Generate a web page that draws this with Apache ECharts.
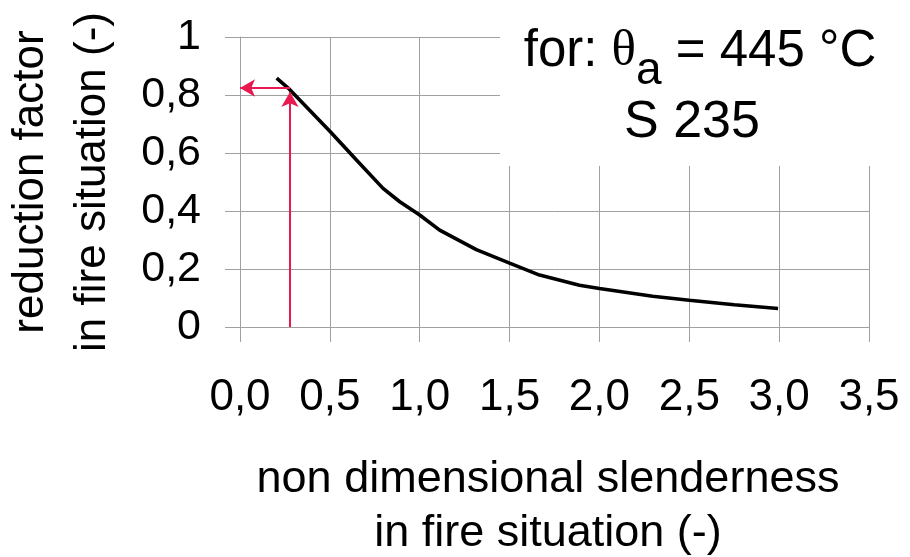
<!DOCTYPE html>
<html>
<head>
<meta charset="utf-8">
<style>
  html, body { margin: 0; padding: 0; background: #ffffff; }
  #chart { width: 910px; height: 557px; }
</style>
<script src="https://cdn.jsdelivr.net/npm/echarts@6/dist/echarts.min.js"></script>
</head>
<body>
<div id="chart"></div>
<script>
// ---- data ----
const slenderness = [0.204, 0.268, 0.5, 0.648, 0.796, 0.889, 1.0, 1.111, 1.315, 1.5, 1.667, 1.889, 2.0, 2.296, 2.5, 2.75, 2.994];
const reductionFactor = [0.858, 0.824, 0.675, 0.576, 0.478, 0.432, 0.386, 0.334, 0.267, 0.22, 0.179, 0.144, 0.133, 0.106, 0.092, 0.077, 0.064];
const xTickLabels = ['0,0', '0,5', '1,0', '1,5', '2,0', '2,5', '3,0', '3,5'];
const yTickLabels = ['0', '0,2', '0,4', '0,6', '0,8', '1'];
const readOffX = 0.278;      // slenderness at the red reading line
const readOffY = 0.824;
const readOffArrowTopY = 0.81;
const readOffArrowLeftX = 0.0;

const FONT = "'Liberation Sans', Arial, Helvetica, sans-serif";
const GRID = '#a0a0a0';
const RED = '#e8194f';

const chart = echarts.init(document.getElementById('chart'), null, { renderer: 'canvas' });

const curve = slenderness.map((x, i) => [x, reductionFactor[i]]);

chart.setOption({
  animation: false,
  backgroundColor: '#ffffff',
  grid: { left: 240, right: 41, top: 37, bottom: 230, containLabel: false, outerBoundsMode: 'none' },
  xAxis: {
    type: 'value', min: 0, max: 3.5, interval: 0.5,
    axisLine: { show: true, lineStyle: { color: GRID, width: 1 } },
    axisTick: { show: true, length: 15, lineStyle: { color: GRID, width: 1 } },
    splitLine: { show: true, lineStyle: { color: GRID, width: 1 } },
    axisLabel: {
      margin: 49, fontSize: 44, color: '#000', fontFamily: FONT,
      formatter: v => xTickLabels[Math.round(v / 0.5)]
    },
    name: 'non dimensional slenderness\nin fire situation (-)',
    nameLocation: 'middle', nameGap: 126,
    nameTextStyle: { fontSize: 45, lineHeight: 54, color: '#000', fontFamily: FONT, padding: [0, 13, 0, 0] }
  },
  yAxis: {
    type: 'value', min: 0, max: 1, interval: 0.2,
    axisLine: { show: true, lineStyle: { color: GRID, width: 1 } },
    axisTick: { show: true, length: 15, lineStyle: { color: GRID, width: 1 } },
    splitLine: { show: true, lineStyle: { color: GRID, width: 1 } },
    axisLabel: {
      margin: 39, fontSize: 43, color: '#000', fontFamily: FONT, padding: [6, 0, 0, 0],
      formatter: v => yTickLabels[Math.round(v / 0.2)]
    },
    name: 'reduction factor\nin fire situation (-)',
    nameLocation: 'middle', nameGap: 116, nameRotate: 90,
    nameTextStyle: { fontSize: 44, lineHeight: 62, color: '#000', fontFamily: FONT }
  },
  series: [{
    type: 'line',
    data: curve,
    showSymbol: false,
    symbol: 'none',
    lineStyle: { color: '#000', width: 3.6 },
    z: 3,
    markLine: {
      silent: true,
      symbol: ['none', 'arrow'],
      symbolSize: [13, 15],
      label: { show: false },
      lineStyle: { color: RED, width: 2, type: 'solid' },
      emphasis: { disabled: true },
      data: [
        [{ coord: [readOffX, 0] }, { coord: [readOffX, readOffArrowTopY] }],
        [{ coord: [readOffX, readOffY] }, { coord: [readOffArrowLeftX, readOffY] }]
      ]
    }
  }],
  graphic: {
    elements: [
      {
        type: 'rect', z: 10,
        shape: { x: 500, y: 0, width: 410, height: 166 },
        style: { fill: '#ffffff' }
      },
      {
        type: 'text', z: 20, x: 700, y: 26,
        style: {
          text: '{n|for: }{t|θ}{s|a}{n| = 445 °C}',
          align: 'center', verticalAlign: 'top',
          rich: {
            n: { fontSize: 51, lineHeight: 60, verticalAlign: 'top', fontFamily: FONT, fill: '#000' },
            t: { fontSize: 51, lineHeight: 60, verticalAlign: 'top', fontFamily: "'Liberation Serif', 'DejaVu Serif', serif", fill: '#000' },
            s: { fontSize: 46, lineHeight: 60, verticalAlign: 'top', fontFamily: FONT, fill: '#000', padding: [22, 0, 0, 0] }
          }
        }
      },
      {
        type: 'text', z: 20, x: 692, y: 123,
        style: {
          text: 'S 235', align: 'center', verticalAlign: 'middle',
          fontSize: 52, fontFamily: FONT, fill: '#000'
        }
      }
    ]
  }
});
</script>
</body>
</html>
